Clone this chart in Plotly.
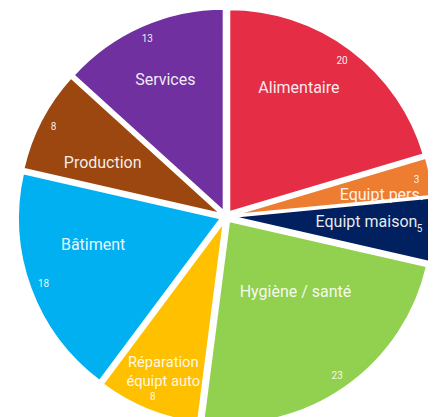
import plotly.graph_objects as go

categories = ["Alimentaire", "Equipt pers.", "Equipt maison", "Hygiène / santé",
              "Réparation équipt auto", "Bâtiment", "Production", "Services"]
values = [20, 3, 5, 23, 8, 18, 8, 13]
colors = ["#E52D46", "#ED7D31", "#002060", "#92D050",
          "#FFC000", "#00B0F0", "#9C470F", "#7030A0"]

W, H = 436, 417
PULL = 0.025
FONT = "Roboto"
TXT = "rgba(255,255,255,0.92)"
LABEL_SIZE = 16
NB = "\u00a0"

n = len(values)
clear = ["rgba(0,0,0,0)"] * n


def label_text(c, lines_below=0, pad_right=0, pad_left=0):
    t = NB * pad_left + c.replace(" équipt", "<br>équipt") + NB * pad_right
    return t + ("<br>" + NB) * lines_below


def domain(rad):
    hx, hy = rad / W, rad / H
    return dict(x=[0.5 - hx, 0.5 + hx], y=[0.5 - hy, 0.5 + hy])


fig = go.Figure()

# main coloured pie
fig.add_trace(go.Pie(
    values=values, labels=categories, sort=False, direction="clockwise",
    marker=dict(colors=colors, line=dict(color="white", width=2.5)),
    pull=[PULL] * n, textinfo="none",
    hoverinfo="skip", showlegend=False,
))

# value ring near the outer edge
fig.add_trace(go.Pie(
    values=values, labels=categories, sort=False, direction="clockwise",
    hole=0.86,
    marker=dict(colors=clear, line=dict(width=0)),
    pull=[PULL] * n,
    text=[str(v) for v in values], textinfo="text", textposition="inside",
    insidetextorientation="horizontal",
    textfont=dict(family=FONT, size=10, color=TXT),
    hoverinfo="skip", showlegend=False,
))


def label_trace(name, position, text, dom=None, pull=0.0):
    kw = {}
    if dom is not None:
        kw["domain"] = dom
    return go.Pie(
        values=values, labels=categories, sort=False, direction="clockwise",
        marker=dict(colors=clear, line=dict(width=0)),
        pull=[pull if c == name else 0 for c in categories],
        text=[text if c == name else "" for c in categories],
        textinfo="text",
        textposition=[position if c == name else "none" for c in categories],
        insidetextorientation="horizontal",
        textfont=dict(family=FONT, size=LABEL_SIZE, color=TXT),
        hoverinfo="skip", showlegend=False, **kw,
    )


# category labels, each on an invisible pie sized/pulled to place it
fig.add_trace(label_trace("Services", "inside", label_text("Services"), pull=PULL))
fig.add_trace(label_trace("Réparation équipt auto", "inside",
                          label_text("Réparation équipt auto"), pull=PULL))
fig.add_trace(label_trace("Alimentaire", "inside",
                          label_text("Alimentaire", lines_below=1, pad_right=8), pull=0.3))
fig.add_trace(label_trace("Hygiène / santé", "inside",
                          label_text("Hygiène / santé", lines_below=1, pad_left=5),
                          dom=domain(174)))
fig.add_trace(label_trace("Bâtiment", "inside",
                          label_text("Bâtiment", lines_below=2), pull=0.1))
fig.add_trace(label_trace("Production", "outside",
                          label_text("Production", lines_below=1), dom=domain(84)))
fig.add_trace(label_trace("Equipt maison", "outside",
                          label_text("Equipt maison"), dom=domain(85)))
fig.add_trace(label_trace("Equipt pers.", "outside",
                          label_text("Equipt pers."), dom=domain(111)))

fig.update_layout(
    width=W, height=H,
    margin=dict(l=0, r=0, t=0, b=0),
    paper_bgcolor="white", plot_bgcolor="white",
    showlegend=False,
)

fig.write_html("out.html", config={"displayModeBar": False})
